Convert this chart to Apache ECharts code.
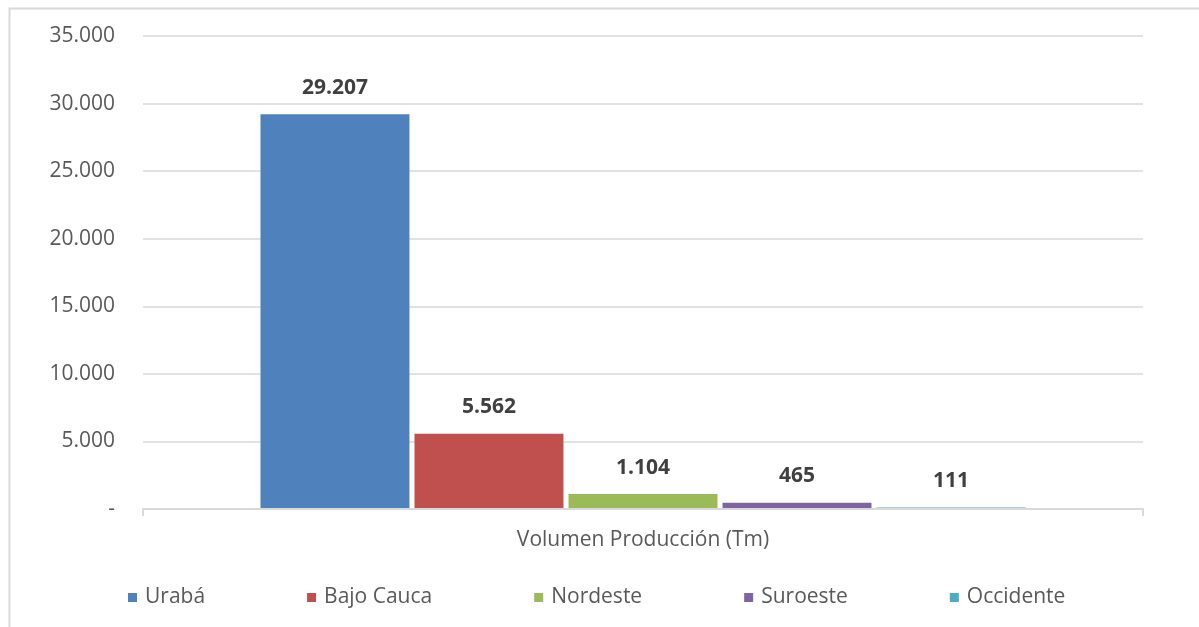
<!DOCTYPE html>
<html><head><meta charset="utf-8">
<script src="https://cdn.jsdelivr.net/npm/echarts@6/dist/echarts.min.js"></script>
<style>html,body{margin:0;padding:0;background:#fff}#c{width:1199px;height:627px}</style>
</head><body><div id="c"></div>
<script>
const categories = ['Volumen Producción (Tm)'];
const seriesNames = ['Urabá', 'Bajo Cauca', 'Nordeste', 'Suroeste', 'Occidente'];
const seriesValues = [29207, 5562, 1104, 465, 111];
const colors = ['#4f81bd', '#c0504d', '#9bbb59', '#8064a2', '#4bacc6'];
const yMin = 0, yMax = 35000, yInterval = 5000;

function fmt(v) {
  if (v === 0) return '-';
  return String(v).replace(/\B(?=(\d{3})+(?!\d))/g, '.');
}
const FONT = '"Open Sans", "Noto Sans", sans-serif';
const chart = echarts.init(document.getElementById('c'));
chart.setOption({
  animation: false,
  color: colors,
  graphic: [{
    type: 'rect', left: 7, top: 6, silent: true,
    shape: { width: 1210, height: 640 },
    style: { fill: 'none', stroke: '#d9d9d9', lineWidth: 2 }
  }],
  grid: { left: 143, right: 56, top: 36, bottom: 118 },
  legend: {
    left: 123, top: 582, icon: 'rect', itemWidth: 9, itemHeight: 9, itemGap: 102,
    textStyle: { fontFamily: FONT, fontSize: 21, color: '#595959', padding: [0, 0, 0, 3] },
    data: seriesNames
  },
  xAxis: {
    type: 'category', data: categories, z: 5,
    axisLine: { lineStyle: { color: '#d9d9d9', width: 2 } },
    axisTick: { show: true, length: 7, lineStyle: { color: '#d9d9d9', width: 2 } },
    axisLabel: { margin: 21, fontFamily: FONT, fontSize: 21, color: '#595959' }
  },
  yAxis: {
    type: 'value', min: yMin, max: yMax, interval: yInterval,
    axisLine: { show: false }, axisTick: { show: false },
    splitLine: { lineStyle: { color: '#d9d9d9', width: 1.5 } },
    axisLabel: { margin: 28, fontFamily: FONT, fontSize: 21, color: '#595959', formatter: fmt }
  },
  series: seriesNames.map((n, i) => ({
    name: n, type: 'bar', data: [seriesValues[i]],
    barCategoryGap: '23.5%', barGap: '3.4%',
    label: {
      show: true, position: 'top', distance: 16,
      fontFamily: FONT, fontSize: 21, fontWeight: 'bold', color: '#404040',
      formatter: p => fmt(p.value)
    }
  }))
});
</script></body></html>
